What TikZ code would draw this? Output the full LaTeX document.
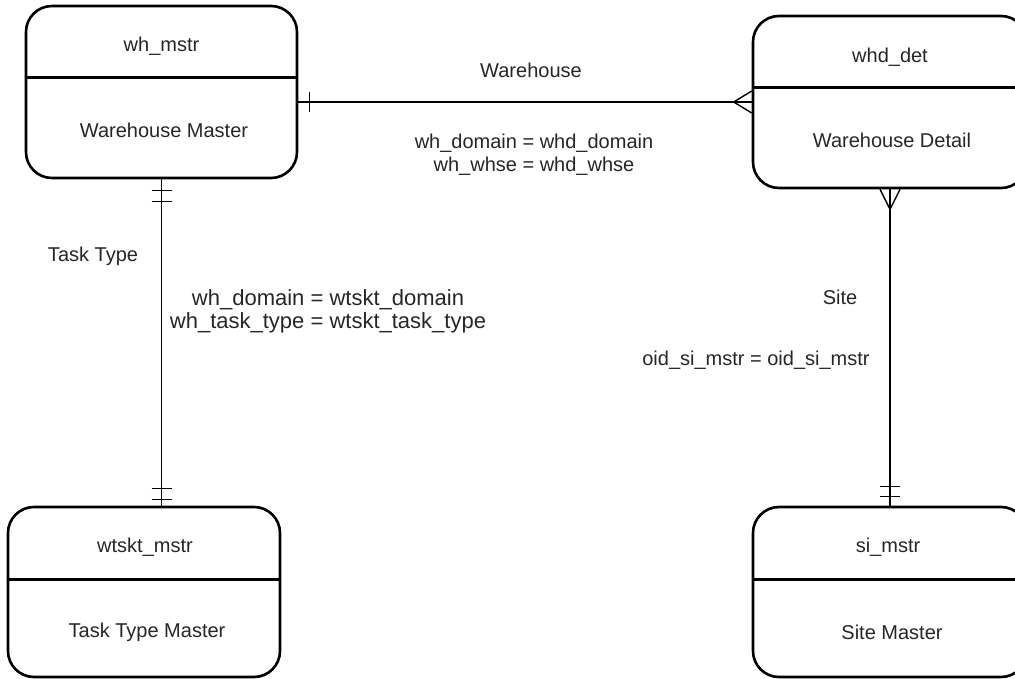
\documentclass[tikz,border=0pt]{standalone}
\usepackage{fontspec}
\setmainfont{Liberation Sans}
\usetikzlibrary{calc}
\definecolor{txt}{HTML}{262626}
\begin{document}
\begin{tikzpicture}[x=1pt,y=-1pt,
  entity/.style={draw=black, line width=2.6pt, rounded corners=26pt, inner sep=0pt},
  divider/.style={line width=2.6pt},
  conn/.style={line width=1.4pt},
  lbl/.style={font=\fontsize{20}{23}\selectfont, text=txt, align=center, inner sep=0pt},
  biglbl/.style={font=\fontsize{22}{23}\selectfont, text=txt, align=center, inner sep=0pt}]
\useasboundingbox (0,0) rectangle (1015,679);
\clip (0,0) rectangle (1015,679);

% entities
\node[entity, minimum width=271pt, minimum height=172pt] (whmstr) at (161.5,92) {};
\node[entity, minimum width=274pt, minimum height=172pt] (whddet) at (890,102) {};
\node[entity, minimum width=272pt, minimum height=170pt] (wtskt) at (144,592) {};
\node[entity, minimum width=274pt, minimum height=170pt] (simstr) at (890,592) {};

\draw[divider] ($(whmstr.north west)+(0,73)$) -- ($(whmstr.north east)+(0,73)$);
\draw[divider] ($(whddet.north west)+(0,73)$) -- ($(whddet.north east)+(0,73)$);
\draw[divider] ($(wtskt.north west)+(0,74)$) -- ($(wtskt.north east)+(0,74)$);
\draw[divider] ($(simstr.north west)+(0,74)$) -- ($(simstr.north east)+(0,74)$);

\node[lbl] (whmstrT) at (161.5,46) {wh\_mstr};
\node[lbl] (whmstrB) at (164,130) {Warehouse Master};
\node[lbl] (whddetT) at (890,57) {whd\_det};
\node[lbl] (whddetB) at (892,140) {Warehouse Detail};
\node[lbl] (wtsktT) at (145,547) {wtskt\_mstr};
\node[lbl] (wtsktB) at (147,632) {Task Type Master};
\node[lbl] (simstrT) at (888,547) {si\_mstr};
\node[lbl] (simstrB) at (892,632) {Site Master};

% Warehouse relation
\coordinate (hA) at (whddet.west -| whmstr.east);
\coordinate (hB) at (whddet.west);
\draw[conn] (hA) -- (hB);
\draw[conn] ($(hA)+(11,-10)$) -- ++(0,20);
\draw[conn] ($(hB)+(0,-11)$) -- ($(hB)+(-18,0)$) -- ($(hB)+(0,11)$);

% Task Type relation
\coordinate (vA) at (whmstr.south);
\coordinate (vB) at (whmstr.south |- wtskt.north);
\draw[conn] (vA) -- (vB);
\draw[conn] ($(vA)+(-10,11)$) -- ++(20,0);
\draw[conn] ($(vA)+(-10,22)$) -- ++(20,0);
\draw[conn] ($(vB)+(-10,-17)$) -- ++(20,0);
\draw[conn] ($(vB)+(-10,-6)$) -- ++(20,0);

% Site relation
\coordinate (sA) at (whddet.south);
\coordinate (sB) at (simstr.north);
\draw[conn] (sA) -- (sB);
\draw[conn] ($(sA)+(-10,0)$) -- ($(sA)+(0,20)$) -- ($(sA)+(10,0)$);
\draw[conn] ($(sB)+(-10,-19)$) -- ++(20,0);
\draw[conn] ($(sB)+(-10,-9)$) -- ++(20,0);

% relation labels
\node[lbl] (relWh) at (531,70) {Warehouse};
\node[lbl] (condWh) at (534,154.5) {wh\_domain = whd\_domain\\wh\_whse = whd\_whse};
\node[lbl] (relTask) at (93,256) {Task Type};
\node[biglbl] (condTask) at (328,311.5) {wh\_domain = wtskt\_domain\\wh\_task\_type = wtskt\_task\_type};
\node[lbl] (relSite) at (840,297) {Site};
\node[lbl] (condSite) at (756,360) {oid\_si\_mstr = oid\_si\_mstr};
\end{tikzpicture}
\end{document}
